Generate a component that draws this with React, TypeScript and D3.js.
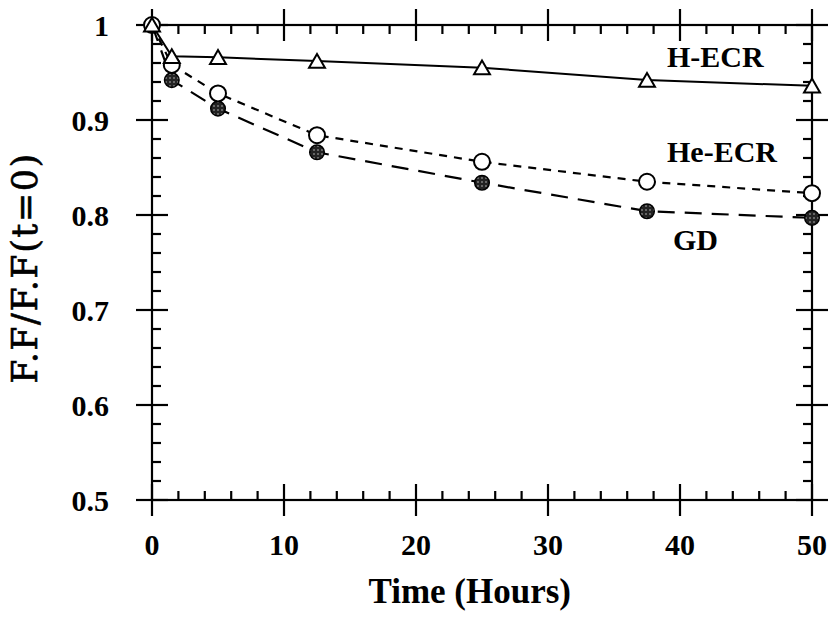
import React from "react";
import * as d3 from "d3";

const hours = [0, 1.5, 5, 12.5, 25, 37.5, 50];
const hEcr = [1.0, 0.967, 0.966, 0.962, 0.955, 0.942, 0.936];
const heEcr = [1.0, 0.958, 0.928, 0.884, 0.856, 0.835, 0.823];
const gd = [1.0, 0.942, 0.912, 0.866, 0.834, 0.804, 0.797];
const xTicks = [0, 10, 20, 30, 40, 50];
const yTicks = [0.5, 0.6, 0.7, 0.8, 0.9, 1];
const yTickLabels = ["0.5", "0.6", "0.7", "0.8", "0.9", "1"];

const W = 833;
const H = 617;

export default function App() {
  const x = d3.scaleLinear().domain([0, 50]).range([152, 812]);
  const y = d3.scaleLinear().domain([0.5, 1]).range([500, 25]);
  const line = d3
    .line<[number, number]>()
    .x((d) => x(d[0]))
    .y((d) => y(d[1]));
  const pts = (vals: number[]) => hours.map((h, i) => [h, vals[i]] as [number, number]);

  const xMinor = d3.range(0, 50.001, 2).filter((v) => v % 10 !== 0);
  const yMinor = d3.range(0.5, 1.0001, 0.02).filter((v) => Math.abs(Math.round(v * 10) - v * 10) > 0.001);
  const x0 = x(0), x1 = x(50), y0 = y(0.5), y1 = y(1);
  const MJ = 16, MN = 9;
  const tri = d3.symbol().type(d3.symbolTriangle).size(110)();
  const font = "'Liberation Serif', 'Times New Roman', serif";
  const wide = "'DejaVu Serif', serif";

  return (
    <svg width={W} height={H} style={{ display: "block", position: "absolute", left: 0, top: 0, background: "#fff" }}>
      <defs>
        <pattern id="hatch" width="4" height="4" patternUnits="userSpaceOnUse">
          <rect width="4" height="4" fill="#222" />
          <circle cx="2" cy="2" r="0.8" fill="#bbb" />
        </pattern>
      </defs>
      <rect width={W} height={H} fill="#fff" />
      {/* frame */}
      <g stroke="#000" strokeWidth={2.2} fill="none">
        <rect x={x0} y={y1} width={x1 - x0} height={y0 - y1} />
        {xTicks.map((t) => (
          <g key={"xm" + t}>
            <line x1={x(t)} x2={x(t)} y1={y0 - MJ} y2={y0 + MJ} />
            <line x1={x(t)} x2={x(t)} y1={y1 - MJ} y2={y1 + MJ} />
          </g>
        ))}
        {xMinor.map((t) => (
          <g key={"xn" + t}>
            <line x1={x(t)} x2={x(t)} y1={y0 - MN} y2={y0} />
            <line x1={x(t)} x2={x(t)} y1={y1} y2={y1 + MN} />
          </g>
        ))}
        {yTicks.map((t) => (
          <g key={"ym" + t}>
            <line x1={x0 - MJ} x2={x0 + MJ} y1={y(t)} y2={y(t)} />
            <line x1={x1 - MJ} x2={x1 + MJ} y1={y(t)} y2={y(t)} />
          </g>
        ))}
        {yMinor.map((t) => (
          <g key={"yn" + t}>
            <line x1={x0} x2={x0 + MN} y1={y(t)} y2={y(t)} />
            <line x1={x1 - MN} x2={x1} y1={y(t)} y2={y(t)} />
          </g>
        ))}
      </g>
      {/* tick labels */}
      <g fontFamily={font} fontWeight="bold" fontSize={30} fill="#000">
        {xTicks.map((t) => (
          <text key={"xl" + t} x={x(t)} y={555} textAnchor="middle">
            {t}
          </text>
        ))}
        {yTicks.map((t, i) => (
          <text key={"yl" + t} x={109} y={y(t) + 10.5} textAnchor="end">
            {yTickLabels[i]}
          </text>
        ))}
      </g>
      <text x={571} y={603} textAnchor="end" fontFamily={font} fontWeight="bold" fontSize={35}>
        Time (Hours)
      </text>
      <text
        transform={`translate(37, 268) rotate(-90)`}
        textAnchor="middle"
        fontFamily={wide}
        fontSize={35}
        letterSpacing={1.5}
        stroke="#000"
        strokeWidth={0.6}
      >
        F.F/F.F(t=0)
      </text>
      {/* lines */}
      <path d={line(pts(hEcr)) || ""} fill="none" stroke="#000" strokeWidth={2} />
      <path d={line(pts(heEcr)) || ""} fill="none" stroke="#000" strokeWidth={2.2} strokeDasharray="8,7" />
      <path d={line(pts(gd)) || ""} fill="none" stroke="#000" strokeWidth={2.2} strokeDasharray="17,10" />
      {/* markers */}
      {hours.map((h, i) => (
        <circle key={"gd" + i} cx={x(h)} cy={y(gd[i])} r={7.3} fill="url(#hatch)" stroke="#000" strokeWidth={1.5} />
      ))}
      {hours.map((h, i) => (
        <circle key={"he" + i} cx={x(h)} cy={y(heEcr[i])} r={8} fill="#fff" stroke="#000" strokeWidth={2} />
      ))}
      {hours.map((h, i) => (
        <path
          key={"h" + i}
          d={tri || ""}
          transform={`translate(${x(h)}, ${y(hEcr[i]) + 2})`}
          fill="#fff"
          stroke="#000"
          strokeWidth={2}
        />
      ))}
      {/* series labels */}
      <g fontFamily={font} fontWeight="bold" fontSize={30} fill="#000">
        <text x={667} y={67}>H-ECR</text>
        <text x={667} y={162}>He-ECR</text>
        <text x={673} y={250}>GD</text>
      </g>
    </svg>
  );
}
